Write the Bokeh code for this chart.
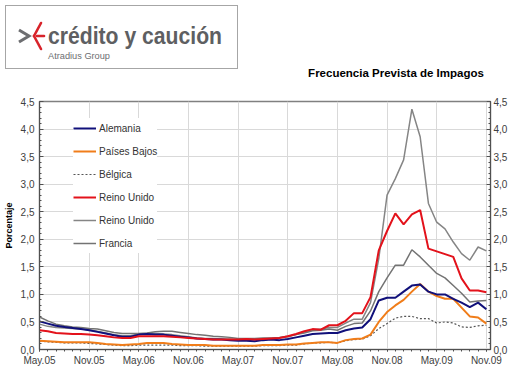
from bokeh.plotting import figure
from bokeh.models import (Range1d, FixedTicker, CustomJSTickFormatter, LinearAxis,
                          Legend, LegendItem, Div)
from bokeh.layouts import column
from bokeh.embed import file_html
from bokeh.resources import INLINE

# ---------------- data ----------------
tick_labels = ["May.05", "Nov.05", "May.06", "Nov.06", "May.07",
               "Nov.07", "May.08", "Nov.08", "May.09", "Nov.09"]
tick_pos = [0, 6, 12, 18, 24, 30, 36, 42, 48, 54]
months = list(range(55))   # May.05 ... Nov.09 (monthly index)

y_ticks = [0.0, 0.5, 1.0, 1.5, 2.0, 2.5, 3.0, 3.5, 4.0, 4.5]

alemania = [0.51, 0.47, 0.43, 0.41, 0.39, 0.37, 0.35, 0.32, 0.29, 0.26,
            0.23, 0.23, 0.27, 0.28, 0.27, 0.27, 0.25, 0.23, 0.22, 0.20,
            0.19, 0.18, 0.18, 0.17, 0.16, 0.16, 0.15, 0.17, 0.18, 0.17,
            0.19, 0.22, 0.25, 0.28, 0.29, 0.30, 0.30, 0.35, 0.38, 0.40,
            0.55, 0.89, 0.94, 0.94, 1.05, 1.16, 1.18, 1.05, 1.00, 1.00,
            0.92, 0.85, 0.77, 0.85, 0.73]

paises_bajos = [0.16, 0.15, 0.14, 0.13, 0.13, 0.13, 0.13, 0.12, 0.10, 0.09,
                0.08, 0.09, 0.10, 0.12, 0.12, 0.12, 0.10, 0.09, 0.08, 0.08,
                0.08, 0.07, 0.07, 0.07, 0.07, 0.07, 0.07, 0.08, 0.08, 0.08,
                0.09, 0.09, 0.11, 0.12, 0.13, 0.13, 0.12, 0.17, 0.19, 0.20,
                0.27, 0.50, 0.68, 0.80, 0.90, 1.05, 1.19, 1.05, 0.97, 0.92,
                0.92, 0.76, 0.60, 0.58, 0.47]

belgica = [0.15, 0.14, 0.13, 0.12, 0.12, 0.12, 0.11, 0.10, 0.09, 0.08,
           0.07, 0.07, 0.08, 0.08, 0.08, 0.08, 0.08, 0.07, 0.07, 0.07,
           0.06, 0.06, 0.06, 0.06, 0.06, 0.06, 0.06, 0.07, 0.07, 0.07,
           0.08, 0.08, 0.10, 0.12, 0.12, 0.13, 0.12, 0.16, 0.18, 0.19,
           0.25, 0.38, 0.47, 0.57, 0.60, 0.60, 0.56, 0.56, 0.48, 0.50,
           0.48, 0.41, 0.40, 0.43, 0.44]

reino_unido = [0.35, 0.33, 0.30, 0.29, 0.28, 0.28, 0.27, 0.26, 0.24, 0.22,
               0.21, 0.21, 0.24, 0.24, 0.24, 0.24, 0.23, 0.22, 0.21, 0.20,
               0.19, 0.18, 0.18, 0.18, 0.18, 0.19, 0.18, 0.19, 0.20, 0.21,
               0.24, 0.28, 0.33, 0.37, 0.36, 0.44, 0.44, 0.52, 0.66, 0.66,
               0.95, 1.80, 2.15, 2.47, 2.27, 2.45, 2.53, 1.83, 1.78, 1.73,
               1.68, 1.29, 1.07, 1.07, 1.04]

reino_unido_2 = [0.46, 0.42, 0.40, 0.39, 0.38, 0.37, 0.36, 0.33, 0.30, 0.27,
                 0.25, 0.25, 0.28, 0.29, 0.29, 0.28, 0.27, 0.25, 0.23, 0.21,
                 0.20, 0.20, 0.19, 0.19, 0.18, 0.19, 0.18, 0.19, 0.20, 0.21,
                 0.23, 0.27, 0.32, 0.36, 0.37, 0.40, 0.40, 0.48, 0.55, 0.55,
                 0.85, 1.65, 2.80, 3.10, 3.44, 4.36, 3.86, 2.65, 2.31, 2.19,
                 1.95, 1.74, 1.62, 1.86, 1.79]

francia = [0.59, 0.52, 0.46, 0.43, 0.41, 0.40, 0.38, 0.37, 0.34, 0.31,
           0.29, 0.29, 0.29, 0.30, 0.32, 0.33, 0.33, 0.31, 0.29, 0.27,
           0.26, 0.24, 0.23, 0.22, 0.20, 0.20, 0.20, 0.21, 0.21, 0.22,
           0.24, 0.27, 0.30, 0.34, 0.35, 0.37, 0.35, 0.42, 0.47, 0.48,
           0.70, 1.05, 1.30, 1.53, 1.53, 1.81, 1.68, 1.53, 1.38, 1.30,
           1.16, 1.02, 0.86, 0.88, 0.89]

W = 514
HH = 95

# ---------------- header: logo + title ----------------
header_svg = f"""
<svg xmlns="http://www.w3.org/2000/svg" width="{W}" height="{HH}" style="display:block">
  <rect x="5.5" y="5.5" width="232" height="63" fill="white" stroke="#a6a6a6" stroke-width="1"/>
  <polyline points="19,30 29,36 19,42" fill="none" stroke="#6d6e71" stroke-width="3"/>
  <g stroke="#d8232a" stroke-width="2.6" stroke-linecap="round">
    <line x1="34" y1="36" x2="41" y2="23"/>
    <line x1="34" y1="36" x2="41" y2="49"/>
    <line x1="37" y1="36" x2="44" y2="36"/>
  </g>
  <text x="48" y="44" font-family="Open Sans" font-weight="600" font-size="23"
        fill="#5e5f62" textLength="174" lengthAdjust="spacingAndGlyphs">crédito y caución</text>
  <text x="48" y="59" font-family="Liberation Sans" font-size="9" fill="#6d6e71"
        textLength="62" lengthAdjust="spacingAndGlyphs">Atradius Group</text>
  <text x="396" y="77" text-anchor="middle" font-family="Liberation Sans" font-weight="bold"
        font-size="11.5" fill="#000000">Frecuencia Prevista de Impagos</text>
</svg>
"""
header = Div(text=header_svg, width=W, height=HH, margin=(0, 0, 0, 0))

# ---------------- chart ----------------
p = figure(width=W, height=376 - HH, x_range=Range1d(0, 54.5), y_range=Range1d(0, 4.5),
           output_backend="svg", toolbar_location=None,
           min_border_left=36, min_border_right=24, min_border_top=6, min_border_bottom=27)
p.background_fill_color = "white"
p.outline_line_color = "#808080"
p.outline_line_width = 1.5

ytick = FixedTicker(ticks=y_ticks, minor_ticks=[round(i * 0.1, 1) for i in range(46)])
yfmt = CustomJSTickFormatter(code="return tick.toFixed(1).replace('.', ',');")

# x axis
xa = p.xaxis[0]
xa.ticker = FixedTicker(ticks=tick_pos, minor_ticks=months)
xa.major_label_overrides = {t: lab for t, lab in zip(tick_pos, tick_labels)}
xa.major_label_text_font = "Liberation Sans"
xa.major_label_text_font_size = "10px"
xa.major_label_text_color = "#404040"
xa.major_label_standoff = 3
xa.major_tick_in = 0
xa.major_tick_out = 2
xa.minor_tick_in = 0
xa.minor_tick_out = 2
xa.axis_line_color = "#505050"
xa.major_tick_line_color = "#505050"
xa.minor_tick_line_color = "#505050"

# left y axis
ya = p.yaxis[0]
ya.ticker = ytick
ya.formatter = yfmt
ya.axis_label = "Porcentaje"
ya.axis_label_text_font = "Liberation Sans"
ya.axis_label_text_font_size = "9px"
ya.axis_label_text_font_style = "bold"
ya.axis_label_text_color = "#000000"
ya.axis_label_standoff = 4
ya.major_label_text_font = "Liberation Sans"
ya.major_label_text_font_size = "10px"
ya.major_label_text_color = "#404040"
ya.major_label_standoff = 5
ya.major_tick_in = 4
ya.major_tick_out = 0
ya.minor_tick_in = 2
ya.minor_tick_out = 0
ya.axis_line_color = "#505050"
ya.major_tick_line_color = "#505050"
ya.minor_tick_line_color = "#505050"

# right y axis
yr = LinearAxis(ticker=ytick, formatter=yfmt)
yr.major_label_text_font = "Liberation Sans"
yr.major_label_text_font_size = "10px"
yr.major_label_text_color = "#404040"
yr.major_label_standoff = 3
yr.major_tick_in = 4
yr.major_tick_out = 0
yr.minor_tick_in = 2
yr.minor_tick_out = 0
yr.axis_line_color = "#505050"
yr.major_tick_line_color = "#505050"
yr.minor_tick_line_color = "#505050"
p.add_layout(yr, "right")

p.xgrid.ticker = FixedTicker(ticks=tick_pos)
p.ygrid.ticker = FixedTicker(ticks=y_ticks)
p.grid.grid_line_color = "#d9d9d9"
p.grid.grid_line_width = 1

r_ru2 = p.line(months, reino_unido_2, line_color="#858585", line_width=1.5)
r_fr = p.line(months, francia, line_color="#737373", line_width=1.5)
r_be = p.line(months, belgica, line_color="#555555", line_width=1.2, line_dash="2 2")
r_pb = p.line(months, paises_bajos, line_color="#f07d1a", line_width=2)
r_al = p.line(months, alemania, line_color="#10107a", line_width=2)
r_ru = p.line(months, reino_unido, line_color="#e3121b", line_width=2)

legend = Legend(items=[
    LegendItem(label="Alemania", renderers=[r_al]),
    LegendItem(label="Países Bajos", renderers=[r_pb]),
    LegendItem(label="Bélgica", renderers=[r_be]),
    LegendItem(label="Reino Unido", renderers=[r_ru]),
    LegendItem(label="Reino Unido", renderers=[r_ru2]),
    LegendItem(label="Francia", renderers=[r_fr]),
], location=(34, 96), padding=10, spacing=3, glyph_width=23, glyph_height=20,
    label_height=20, label_standoff=3, label_text_font_size="10px",
    label_text_font="Liberation Sans", label_text_color="#333333",
    border_line_color=None, background_fill_color="white", background_fill_alpha=1)
p.add_layout(legend)

layout = column(header, p, spacing=0)
open("out.html", "w").write(file_html(layout, INLINE))
